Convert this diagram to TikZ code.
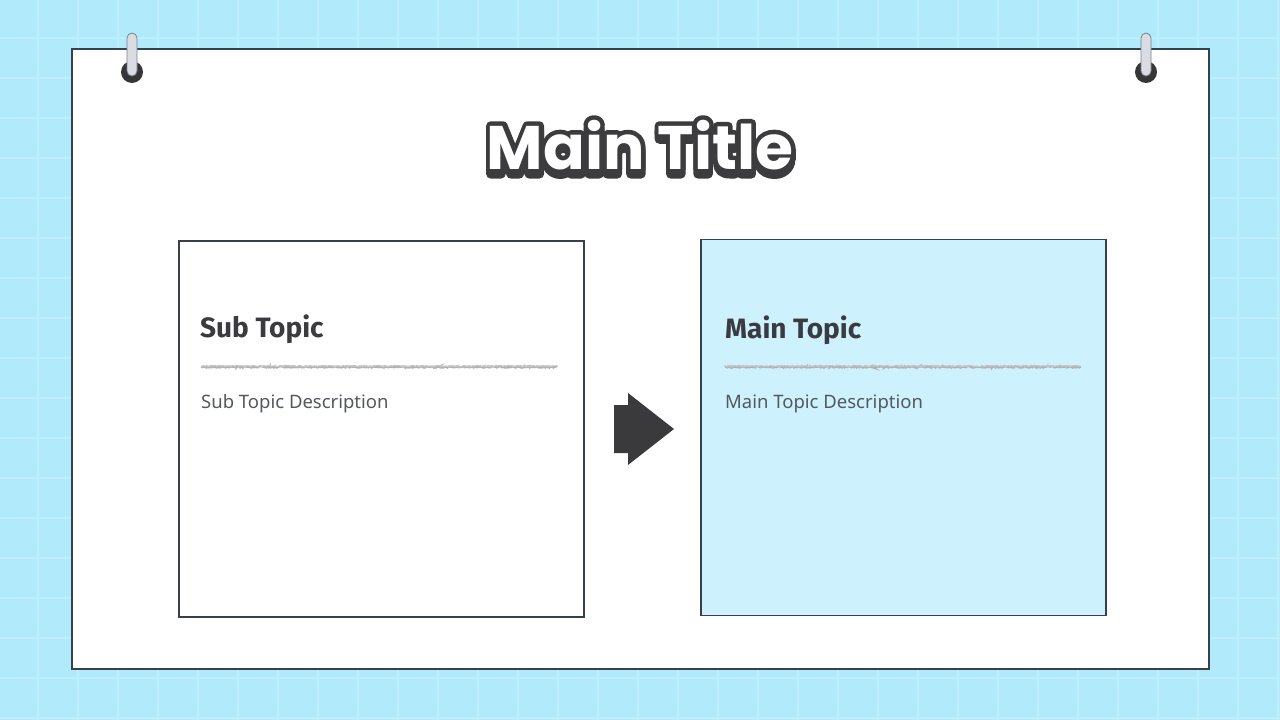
\documentclass[tikz,border=0pt]{standalone}
\usepackage{fontspec}
\setmainfont{Noto Sans}
\newfontfamily\titlefont{Poppins}
\newfontfamily\headfont{Fira Sans}
\usetikzlibrary{decorations.pathmorphing}

\definecolor{skybg}{HTML}{B1EAFA}
\definecolor{skygrid}{HTML}{BEEFFD}
\definecolor{inkdark}{HTML}{37414B}
\definecolor{titleink}{HTML}{3C3C3E}
\definecolor{arrowdark}{HTML}{3A3A3C}
\definecolor{pindark}{HTML}{353638}
\definecolor{pinlight}{HTML}{D9DCE3}
\definecolor{pinedge}{HTML}{7A808A}
\definecolor{boxblue}{HTML}{CDF2FE}
\definecolor{textdark}{HTML}{3A3A40}
\definecolor{textgray}{HTML}{54585E}

% stroke the glyph outlines of the following text (text render mode 2)
\newcommand{\strokedtext}[1]{\special{pdf:code 2 Tr #1 w 1 j}}

\tikzset{
  topicbox/.style={draw=inkdark, line width=1.6pt, minimum width=405pt, minimum height=376pt, inner sep=0pt},
  heading/.style={anchor=base west, inner sep=0pt, text=textdark, font=\headfont\bfseries\fontsize{28}{30}\selectfont},
  descr/.style={anchor=base west, inner sep=0pt, text=textgray, font=\fontsize{18.5}{20}\selectfont},
  scribble/.style={draw=gray!60, line width=2pt, decorate, decoration={random steps, segment length=1pt, amplitude=0.7pt}},
  titletext/.style={anchor=base, inner sep=0pt, font=\titlefont\bfseries\fontsize{61.5}{64}\selectfont},
  pin/.style={fill=pinlight, draw=pinedge, line width=0.8pt, rounded corners=5pt},
}

\begin{document}
\begin{tikzpicture}[x=1pt, y=-1pt]
    \useasboundingbox (0,0) rectangle (1280,720);
    % backdrop with grid
    \fill[skybg] (0,0) rectangle (1280,720);
    \foreach \gx in {38,78,...,1278}
        \draw[skygrid, line width=2.5pt] (\gx,0) -- (\gx,720);
    \foreach \gy in {38,78,...,718}
        \draw[skygrid, line width=2.5pt] (0,\gy) -- (1280,\gy);

    % hanging sheet
    \draw[fill=white, draw=inkdark, line width=2.6pt] (72,49) rectangle (1209,669);
    \foreach \px in {132,1146} {
        \fill[pindark] (\px,72) circle (11);
        \draw[pin] (\px-5,76) rectangle (\px+5,33);
    }

    % title: shadow, outline, then white letters
    \node[titletext, text=titleink] (title-shadow) at (640,174) {\strokedtext{9}Main Title};
    \node[titletext, text=titleink] (title-edge) at (640,169) {\strokedtext{9}Main Title};
    \node[titletext, text=white] (title) at (640,169) {Main Title};

    % the two topic boxes
    \node[topicbox, fill=white] (sub) at (381.5,429) {};
    \node[topicbox, fill=boxblue] (main) at (903.5,427.5) {};

    \node[heading] (subhead) at (200,337) {Sub Topic};
    \draw[scribble] (201,367) -- (557,367);
    \draw[scribble, draw=gray!45, line width=1pt] (201,366) -- (557,366);
    \node[descr] (subdesc) at (201,408) {Sub Topic Description};

    \node[heading] (mainhead) at (725,338) {Main Topic};
    \draw[scribble] (725,367) -- (1081,367);
    \draw[scribble, draw=gray!45, line width=1pt] (725,366) -- (1081,366);
    \node[descr] (maindesc) at (725,408) {Main Topic Description};

    % arrow between boxes
    \fill[arrowdark] (614,405) -- (628,405) -- (628,393) -- (674,429)
        -- (628,465) -- (628,453) -- (614,453) -- cycle;
\end{tikzpicture}
\end{document}
